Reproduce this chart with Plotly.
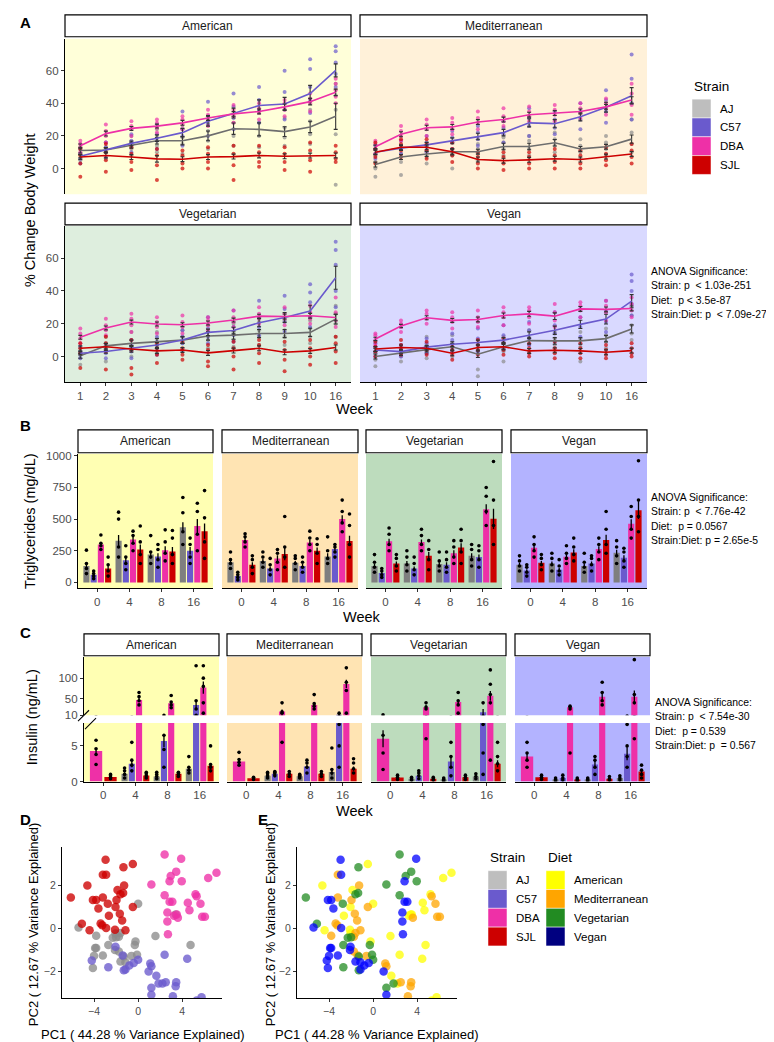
import plotly.graph_objects as go

W, H = 774, 1042
FONT = "Liberation Sans, Arial, sans-serif"

strains = ["AJ", "C57", "DBA", "SJL"]
diets = ["American", "Mediterranean", "Vegetarian", "Vegan"]
weeks_a = ["1", "2", "3", "4", "5", "6", "7", "8", "9", "10", "16"]
weeks_bc = ["0", "4", "8", "16"]

# legend / key colours
strain_key = {"AJ": "#BEBEBE", "C57": "#6A5ACD", "DBA": "#EE30A7", "SJL": "#CD0000"}
diet_key = {"American": "#FFFF00", "Mediterranean": "#FFA500", "Vegetarian": "#228B22", "Vegan": "#000080"}
# colours used on the marks
strain_line = {"AJ": "#6E6E6E", "C57": "#6A5ACD", "DBA": "#EE30A7", "SJL": "#CD0000"}
strain_pt = {"AJ": "#8C8C8C", "C57": "#6A5ACD", "DBA": "#EE30A7", "SJL": "#CD0000"}
strain_bar = {"AJ": "#7F7F7F", "C57": "#6A5ACD", "DBA": "#EE30A7", "SJL": "#CD0000"}
diet_pt = {"American": "#FFFF00", "Mediterranean": "#FFA500", "Vegetarian": "#228B22", "Vegan": "#0000FF"}
bg_light = {"American": "#FFFFD9", "Mediterranean": "#FFF1D9", "Vegetarian": "#DEEEDE", "Vegan": "#D9D9FF"}
bg_strong = {"American": "#FFFFB3", "Mediterranean": "#FFE4B3", "Vegetarian": "#BDDCBD", "Vegan": "#B3B3FF"}

# ---------------- A: % change body weight ----------------
bw_mean_american = {
    "AJ": [11, 11.3, 14.3, 17, 17, 20, 24.4, 24, 22.6, 25.5, 32],
    "C57": [7.5, 11.3, 15.4, 18.6, 22, 29, 34, 38.6, 39.6, 46, 60.2],
    "DBA": [14, 21.4, 24.6, 26, 28, 31, 33.5, 35, 37.8, 41, 46.7],
    "SJL": [7, 8, 7, 5.9, 5.7, 7, 7.3, 8, 7.5, 7.9, 8],
}
bw_se_american = {
    "AJ": [1.5, 1.5, 1.8, 2, 2.5, 3, 3.5, 4, 3, 3.5, 8],
    "C57": [1, 1.2, 1.5, 2, 2.5, 3, 3, 3.5, 4, 5, 4],
    "DBA": [1, 1.5, 1.2, 1.2, 1.5, 1.5, 1.5, 1.5, 1.8, 2, 2],
    "SJL": [1.5, 1.5, 1.5, 2, 1.5, 1.5, 1.5, 1.5, 1.5, 1.5, 1.5],
}
bw_pts_american = {
    "AJ": [[5, 9, 12, 15], [6, 10, 13, 16], [8, 12, 16, 20], [10, 14, 19, 24], [9, 15, 19, 25], [12, 17, 23, 28],
           [14, 20, 28, 34], [13, 20, 28, 35], [14, 19, 25, 31], [15, 21, 29, 36], [-10, 21, 36, 45, 52]],
    "C57": [[3, 6, 9, 12], [7, 10, 13, 16], [10, 14, 17, 21], [12, 17, 21, 27], [14, 20, 24, 35], [20, 27, 32, 41],
            [24, 31, 38, 46], [28, 36, 42, 50], [30, 36, 47, 60], [34, 42, 50, 61, 67], [50, 58, 65, 72, 75]],
    "DBA": [[10, 13, 15, 17], [16, 20, 23, 27], [20, 24, 26, 29], [22, 25, 28, 30], [24, 27, 30, 32], [26, 30, 33, 36],
            [28, 32, 36, 39], [30, 34, 37, 40], [32, 36, 40, 42], [35, 40, 43, 46], [40, 44, 48, 52, 55]],
    "SJL": [[-5, 3, 8, 12], [-2, 5, 10, 15], [-1, 4, 9, 13], [-7, 2, 8, 12], [0, 3, 8, 11], [0, 4, 9, 13],
            [-7, 2, 9, 14], [1, 4, 10, 14], [-1, 4, 9, 13], [-2, 5, 11, 16], [4, 6, 10, 14]],
}
bw_mean_med = {
    "AJ": [2.4, 7, 8.9, 10.3, 10.3, 13.5, 13.5, 15.8, 12, 13.3, 18],
    "C57": [10, 12.5, 14.5, 17, 19.6, 22, 28, 27.5, 31.7, 37.6, 44.6],
    "DBA": [13.3, 21, 25, 25.5, 28.5, 30, 33, 34, 35, 37.8, 42],
    "SJL": [10, 13, 13, 10.3, 5.5, 4.8, 5.3, 6, 5.5, 7.3, 8.9],
}
bw_se_med = {
    "AJ": [1.5, 1.5, 1.5, 2, 1.5, 2, 2, 2, 1.5, 1.5, 2.5],
    "C57": [1.2, 1.5, 1.5, 1.8, 2, 2, 2.5, 2.5, 2.5, 3, 5],
    "DBA": [1, 1.5, 1.5, 1.5, 1.5, 1.5, 1.5, 1.5, 1.5, 1.5, 2],
    "SJL": [1.5, 1.5, 1.5, 1.5, 1.5, 1.5, 1.5, 1.5, 1.5, 1.5, 1.5],
}
bw_pts_med = {
    "AJ": [[-5, 0, 4, 8], [-4, 4, 9, 12], [3, 7, 11, 14], [0, 8, 12, 16], [5, 9, 12, 15], [8, 12, 16, 19],
           [8, 12, 17, 20], [10, 14, 18, 22], [6, 10, 14, 18], [8, 12, 16, 20], [10, 15, 22, 30]],
    "C57": [[6, 9, 12, 14], [9, 12, 14, 17], [10, 13, 16, 20], [12, 16, 19, 23], [14, 18, 22, 26], [16, 21, 25, 29],
            [20, 26, 31, 37], [21, 25, 30, 35], [24, 30, 35, 40], [28, 35, 42, 48], [30, 40, 55, 70]],
    "DBA": [[9, 12, 15, 17], [17, 20, 23, 26], [20, 24, 27, 30], [21, 24, 28, 31], [24, 28, 31, 35], [26, 29, 32, 37],
            [29, 32, 35, 38], [29, 33, 36, 39], [31, 34, 37, 40], [33, 37, 40, 43], [33, 39, 46, 52]],
    "SJL": [[3, 7, 12, 16], [7, 11, 15, 18], [6, 11, 15, 18], [4, 8, 12, 16], [0, 3, 7, 10], [-1, 3, 7, 10],
            [0, 3, 7, 10], [0, 4, 8, 12], [0, 3, 8, 11], [2, 5, 9, 13], [3, 7, 11, 15]],
}
bw_mean_veg = {
    "AJ": [0.4, 6.5, 8, 9, 10, 12.5, 13, 14, 14, 14.7, 22.8],
    "C57": [2, 3, 5, 7, 10, 14.7, 15.8, 20.6, 23.8, 27.7, 48],
    "DBA": [11.7, 17.4, 21, 19.8, 19.4, 20.4, 22.2, 24.6, 24.4, 24.8, 23.8],
    "SJL": [5, 5.9, 4.6, 3.4, 4, 2.2, 3.6, 5, 2.6, 3.4, 5.5],
}
bw_se_veg = {
    "AJ": [1.5, 1.5, 2, 2, 2, 2.5, 2.5, 2.5, 2.5, 2.5, 3],
    "C57": [1, 1, 1.5, 1.5, 2, 2, 2, 2.5, 3, 3.5, 7],
    "DBA": [1.2, 1.2, 1.2, 1.2, 1.2, 1.2, 1.2, 1.2, 1.5, 1.5, 2],
    "SJL": [1.5, 2, 2, 1.5, 1.5, 1.5, 1.5, 1.5, 1.5, 1.5, 1.5],
}
bw_pts_veg = {
    "AJ": [[-5, -1, 2, 5], [-3, 3, 8, 12], [0, 5, 10, 15], [2, 6, 11, 15], [3, 8, 12, 16], [5, 10, 15, 19],
           [6, 10, 15, 20], [7, 12, 16, 21], [7, 12, 16, 22], [8, 12, 17, 22], [12, 20, 26, 31]],
    "C57": [[-1, 1, 3, 6], [-1, 2, 4, 7], [-1, 3, 7, 10], [1, 5, 9, 12], [4, 8, 12, 16], [8, 12, 17, 24],
            [9, 13, 18, 28], [13, 18, 24, 34], [15, 21, 29, 37], [18, 24, 33, 39, 44], [30, 40, 56, 65, 70]],
    "DBA": [[8, 11, 14, 17], [13, 16, 19, 23], [15, 19, 23, 26], [14, 18, 21, 24], [14, 18, 21, 25], [16, 19, 22, 24],
            [18, 21, 24, 28], [20, 23, 26, 30], [19, 23, 26, 30], [20, 23, 27, 31], [18, 22, 27, 36]],
    "SJL": [[-7, 2, 5, 8], [-8, 3, 8, 12], [-11, -7, 4, 10], [-4, 1, 5, 8], [-2, 1, 5, 9], [-6, -3, 4, 7],
            [-8, 0, 5, 9], [-4, 2, 7, 10], [-9, -2, 4, 9], [-5, 0, 5, 10], [-4, 3, 8, 12]],
}
bw_mean_vegan = {
    "AJ": [0, 2.2, 4.2, 5.9, 1.4, 6, 9.7, 9.5, 9.5, 10.9, 16.8],
    "C57": [4, 3, 5.7, 7.5, 8.5, 10, 13, 16, 19.6, 22.8, 33.7],
    "DBA": [10.7, 18.6, 23.6, 22, 22.6, 25, 26, 24.6, 29, 28.7, 29.3],
    "SJL": [4.6, 5.5, 5, 2, 5.5, 5.9, 3.4, 3.8, 3.4, 2.6, 3.6],
}
bw_se_vegan = {
    "AJ": [1.5, 1.5, 1.5, 2, 2, 2, 2, 2, 2, 2, 2.5],
    "C57": [1, 1, 1.2, 1.5, 1.5, 1.5, 2, 2.5, 2.5, 3, 4],
    "DBA": [1, 1, 1.2, 1.2, 1.5, 1.5, 1.5, 2, 1.5, 1.5, 1.5],
    "SJL": [1.5, 1.5, 1.5, 1.5, 1.5, 1.5, 1.5, 1.5, 1.5, 1.5, 1.5],
}
bw_pts_vegan = {
    "AJ": [[-6, -2, 2, 5], [-3, 0, 4, 7], [-1, 2, 6, 12], [0, 4, 8, 13], [-12, -8, 3, 7], [-3, 3, 8, 12],
           [3, 7, 11, 16], [3, 7, 11, 15], [-3, 6, 11, 15], [5, 9, 13, 17], [10, 14, 19, 25]],
    "C57": [[0, 3, 6, 8], [0, 2, 5, 7], [2, 5, 8, 11], [3, 6, 10, 14], [3, 7, 11, 17], [5, 9, 13, 19],
            [7, 11, 16, 21], [9, 14, 19, 27], [12, 18, 24, 29], [15, 21, 28, 34], [25, 32, 40, 46, 50]],
    "DBA": [[7, 10, 13, 14], [15, 18, 20, 22], [20, 23, 26, 28], [17, 21, 24, 27], [18, 21, 24, 28], [19, 24, 27, 30],
            [20, 24, 28, 30], [18, 22, 27, 32], [24, 28, 31, 33], [22, 27, 31, 34], [24, 28, 32, 36]],
    "SJL": [[0, 3, 6, 9], [1, 4, 7, 10], [1, 4, 6, 9], [-2, 1, 4, 6], [1, 4, 7, 10], [1, 4, 8, 11],
            [0, 2, 5, 8], [-1, 2, 5, 9], [-1, 2, 5, 8], [-1, 1, 4, 7], [0, 2, 5, 8]],
}
bw_mean = {"American": bw_mean_american, "Mediterranean": bw_mean_med, "Vegetarian": bw_mean_veg, "Vegan": bw_mean_vegan}
bw_se = {"American": bw_se_american, "Mediterranean": bw_se_med, "Vegetarian": bw_se_veg, "Vegan": bw_se_vegan}
bw_pts = {"American": bw_pts_american, "Mediterranean": bw_pts_med, "Vegetarian": bw_pts_veg, "Vegan": bw_pts_vegan}

# ---------------- B: triglycerides (weeks 0, 4, 8, 16) ----------------
tg_mean = {
    "American": {"AJ": [130, 330, 220, 435], "C57": [60, 175, 205, 250], "DBA": [300, 340, 255, 445], "SJL": [110, 260, 245, 405]},
    "Mediterranean": {"AJ": [160, 170, 155, 205], "C57": [50, 110, 130, 265], "DBA": [335, 190, 315, 500], "SJL": [140, 225, 250, 328]},
    "Vegetarian": {"AJ": [130, 150, 145, 210], "C57": [75, 110, 140, 200], "DBA": [325, 320, 230, 578], "SJL": [150, 210, 275, 502]},
    "Vegan": {"AJ": [140, 150, 130, 234], "C57": [95, 100, 150, 195], "DBA": [273, 203, 265, 463], "SJL": [155, 237, 336, 570]},
}
tg_se = {
    "American": {"AJ": [20, 45, 25, 40], "C57": [10, 25, 25, 30], "DBA": [15, 20, 30, 55], "SJL": [20, 40, 35, 60]},
    "Mediterranean": {"AJ": [15, 15, 15, 25], "C57": [8, 15, 15, 15], "DBA": [15, 25, 20, 30], "SJL": [20, 50, 25, 40]},
    "Vegetarian": {"AJ": [15, 20, 15, 20], "C57": [10, 15, 20, 20], "DBA": [20, 20, 25, 40], "SJL": [15, 30, 35, 80]},
    "Vegan": {"AJ": [15, 15, 15, 25], "C57": [10, 15, 15, 20], "DBA": [20, 20, 20, 35], "SJL": [15, 25, 40, 70]},
}
tg_pts = {
    "American": {
        "AJ": [[70, 110, 150, 255], [200, 280, 500, 555], [150, 200, 240, 370], [300, 400, 550, 670]],
        "C57": [[30, 50, 70, 90], [100, 150, 200, 290], [120, 180, 260, 300], [150, 200, 300, 350]],
        "DBA": [[260, 290, 310, 375], [250, 310, 370, 405], [170, 230, 320, 415], [250, 380, 560, 625]],
        "SJL": [[50, 90, 140, 200], [150, 220, 320, 445], [150, 220, 350, 410], [190, 320, 510, 725]]},
    "Mediterranean": {
        "AJ": [[110, 150, 180, 240], [120, 160, 200, 240], [100, 150, 190, 210], [150, 190, 250, 360]],
        "C57": [[20, 40, 60, 80], [60, 100, 140, 190], [80, 120, 160, 200], [200, 240, 280, 300]],
        "DBA": [[280, 320, 360, 385], [100, 160, 230, 260], [250, 300, 350, 405], [400, 470, 560, 650]],
        "SJL": [[70, 120, 180, 210], [120, 200, 280, 520], [150, 230, 300, 345], [200, 300, 450, 540]]},
    "Vegetarian": {
        "AJ": [[80, 120, 160, 220], [90, 140, 200, 250], [90, 130, 170, 240], [130, 180, 260, 300]],
        "C57": [[40, 60, 90, 110], [60, 100, 150, 200], [80, 120, 180, 240], [120, 180, 250, 290]],
        "DBA": [[250, 300, 380, 430], [250, 300, 370, 420], [150, 200, 280, 330], [450, 560, 680, 750]],
        "SJL": [[90, 130, 190, 220], [100, 180, 260, 330], [150, 240, 330, 420], [300, 450, 650, 955]]},
    "Vegan": {
        "AJ": [[90, 130, 170, 210], [90, 140, 190, 230], [80, 120, 160, 230], [150, 210, 280, 330]],
        "C57": [[50, 80, 120, 140], [60, 90, 130, 180], [90, 140, 190, 210], [120, 170, 240, 270]],
        "DBA": [[200, 250, 300, 360], [150, 190, 230, 290], [180, 240, 300, 350], [350, 420, 520, 600]],
        "SJL": [[100, 140, 190, 220], [170, 220, 280, 350], [230, 300, 420, 560], [400, 520, 650, 960]]},
}

# ---------------- C: insulin (weeks 0, 4, 8, 16) ----------------
ins_mean = {
    "American": {"AJ": [None, 1.1, 0.7, 1.8], "C57": [None, 2.5, 5.7, 35], "DBA": [4.3, 47, 39, 77], "SJL": [0.65, 0.85, 1.1, 2.2]},
    "Mediterranean": {"AJ": [None, 0.8, 0.75, 1.35], "C57": [None, 1.1, 2.1, 11], "DBA": [2.8, 19, 34.5, 86], "SJL": [0.45, 1.1, 1.1, 1.8]},
    "Vegetarian": {"AJ": [None, 0.4, 0.3, 0.7], "C57": [None, 0.8, 2.8, 17], "DBA": [6.0, 29, 42, 57], "SJL": [0.55, 0.4, 0.6, 2.5]},
    "Vegan": {"AJ": [None, 0.3, 0.3, 0.5], "C57": [None, 0.5, 2.4, 3.9], "DBA": [3.5, 29, 55, 55], "SJL": [0.6, 0.3, 0.4, 1.4]},
}
ins_se = {
    "American": {"AJ": [None, 0.2, 0.15, 0.3], "C57": [None, 0.5, 0.9, 12], "DBA": [0.4, 5, 4, 15], "SJL": [0.1, 0.15, 0.1, 0.4]},
    "Mediterranean": {"AJ": [None, 0.15, 0.1, 0.5], "C57": [None, 0.1, 0.3, 3], "DBA": [0.3, 5, 5, 10], "SJL": [0.05, 0.15, 0.15, 0.3]},
    "Vegetarian": {"AJ": [None, 0.1, 0.1, 0.15], "C57": [None, 0.2, 0.7, 8], "DBA": [1.2, 5, 6, 12], "SJL": [0.1, 0.1, 0.1, 0.5]},
    "Vegan": {"AJ": [None, 0.1, 0.1, 0.1], "C57": [None, 0.1, 0.5, 0.9], "DBA": [0.5, 4, 8, 15], "SJL": [0.1, 0.1, 0.1, 0.3]},
}
ins_pts = {
    "American": {
        "AJ": [[], [0.5, 1, 1.5, 1.9], [0.4, 0.7, 1.0, 1.3], [1.2, 1.6, 2.0, 3.5]],
        "C57": [[], [1.5, 2.3, 3, 5.5], [2, 4.5, 6.5, 10], [10, 25, 45, 130]],
        "DBA": [[2.4, 3.8, 4.6, 5.8], [35, 45, 55, 65], [28, 35, 42, 58], [15, 40, 80, 100, 130]],
        "SJL": [[0.4, 0.6, 0.8, 1.0], [0.5, 0.8, 1.1, 1.3], [0.7, 1.0, 1.2, 1.3], [1.5, 2, 2.4, 5]]},
    "Mediterranean": {
        "AJ": [[], [0.5, 0.8, 1.1, 1.3], [0.5, 0.7, 0.9, 1.0], [0.5, 1.2, 1.7, 4.7]],
        "C57": [[], [0.8, 1.1, 1.3, 1.4], [1.2, 2, 2.6, 3], [2, 5, 8, 15]],
        "DBA": [[2.3, 2.7, 3.1, 4.1], [5.5, 15, 18, 40], [25, 32, 38, 60], [15, 70, 90, 125]],
        "SJL": [[0.3, 0.5, 0.6], [0.7, 1.1, 1.4], [0.7, 1.1, 1.4], [1.2, 1.8, 2.6, 3.2]]},
    "Vegetarian": {
        "AJ": [[], [0.2, 0.4, 0.6], [0.1, 0.3, 0.5], [0.4, 0.7, 1.1]],
        "C57": [[], [0.4, 0.8, 1.2, 1.5], [0.8, 2, 3.5, 5.5], [1, 4, 8, 40]],
        "DBA": [[1.7, 4, 6.5, 11], [6, 25, 30, 40], [15, 35, 45, 65], [3, 40, 60, 85, 120]],
        "SJL": [[0.3, 0.6, 0.9], [0.2, 0.4, 0.6], [0.3, 0.6, 0.9], [1.5, 2.5, 3.5, 5.5]]},
    "Vegan": {
        "AJ": [[], [0.1, 0.3, 0.5], [0.1, 0.3, 0.5], [0.2, 0.5, 0.8]],
        "C57": [[], [0.2, 0.5, 0.9], [1, 2, 3, 3.5], [2, 3.5, 5, 8]],
        "DBA": [[2, 3, 4, 5.5], [4, 25, 30, 32], [35, 45, 65, 90], [6, 40, 60, 145]],
        "SJL": [[0.3, 0.6, 0.9], [0.1, 0.3, 0.5], [0.2, 0.4, 0.7], [0.5, 1, 1.6, 2.3]]},
}

# ---------------- D / E: PCA ----------------
pca_pc1 = [
    # SJL
    -6.1, -5.1, -4.4, -4.6, -4.1, -3.8, -3.6, -3.4, -3.2, -2.95, -3.2, -2.9, -2.75, -2.65, -3.25, -2.9,
    -2.05, -1.96, -1.87, -1.66, -1.6, -1.45, -1.36, -1.33, -1.27, -1.15, -2.1, -0.48, -0.48,
    # DBA
    2.4, 3.9, 3.45, 2.85, 2.95, 3.95, 1.2, 6.35, 7.1, 2.4, 3.1, 2.85, 5.2, 5.3, 4.5, 5.65, 4.65,
    2.65, 3.25, 3.6, 3.5, 2.65, 5.8, 6.05, 2.7,
    # AJ
    -5.4, -3.8, -3.9, -3.8, -4.0, -3.2, -4.1, -2.7, -2.3, -2.05, -1.75, -1.6, -2.1, -1.75, -1.3, -1.6,
    -1.15, -0.24, -0.3, -0.1, 0.0, 1.57, 3.4, 4.75, -0.6, -2.0,
    # C57
    -4.2, -2.7, -2.05, -1.4, -1.15, -1.3, -0.8, -0.4, 0.0, 1.1, 1.2, 0.95, 1.65, 1.85, 2.2, 2.5, 1.2,
    1.2, 3.15, 3.45, 3.4, 2.4, 4.45, 5.3, 5.75,
]
pca_pc2 = [
    1.45, 0.23, -0.08, 2.0, 1.33, 1.33, 0.93, 0.24, 1.45, 3.2, 2.5, 2.5, 1.15, 0.6, 0.15, 0.03,
    1.0, 1.33, 1.8, 0.69, 1.6, 0.38, 1.65, 2.85, 2.0, -0.08, -0.05, 3.0, 1.0,
    3.45, 3.25, 2.65, 2.2, 2.45, 2.2, 2.05, 2.35, 2.6, 1.55, 1.25, 1.25, 1.6, 1.5, 1.2, 1.15, 0.85,
    0.75, 0.6, 0.5, 0.65, 0.33, 0.55, 0.55, -0.26,
    0.05, -0.33, -0.9, -0.9, -1.27, -1.25, -1.83, -0.76, -0.43, -0.23, -0.38, -0.2, -1.0, -1.07, -1.3, -1.53,
    -1.57, -0.6, -0.76, -1.22, 1.15, -0.35, 0.66, -0.76, -1.27, -0.4,
    -1.48, -1.8, -0.84, -1.25, -1.9, -1.94, -1.72, -1.6, -1.45, -1.63, -1.75, -2.0, -2.2, -2.55, -2.55, -2.5, -2.75,
    -3.08, -3.15, -2.5, -2.68, -1.22, -1.4, -3.35, -3.2,
]
pca_strain = ["SJL"] * 29 + ["DBA"] * 25 + ["AJ"] * 26 + ["C57"] * 25
A_, M_, G_, V_ = "American", "Mediterranean", "Vegetarian", "Vegan"
pca_diet = [
    G_, G_, A_, A_, V_, V_, V_, M_, M_, V_, M_, V_, G_, A_, M_, V_, A_, M_, A_, M_, G_, M_, G_, G_, M_, M_, A_, A_, M_,
    G_, V_, G_, V_, G_, G_, G_, A_, A_, G_, V_, V_, A_, M_, A_, M_, A_, V_, A_, M_, A_, V_, M_, M_, V_,
    V_, M_, V_, V_, V_, V_, V_, G_, G_, A_, M_, M_, V_, M_, G_, V_, V_, A_, G_, G_, A_, A_, A_, A_, M_, G_,
    V_, G_, V_, M_, V_, G_, V_, V_, G_, M_, M_, V_, A_, G_, A_, M_, G_, V_, M_, M_, M_, A_, A_, A_, A_,
]

anova_a = ["ANOVA Significance:", "Strain: p  < 1.03e-251", "Diet:  p < 3.5e-87", "Strain:Diet: p  < 7.09e-27"]
anova_b = ["ANOVA Significance:", "Strain: p  < 7.76e-42", "Diet:  p = 0.0567", "Strain:Diet: p = 2.65e-5"]
anova_c = ["ANOVA Significance:", "Strain: p  < 7.54e-30", "Diet:  p = 0.539", "Strain:Diet: p  = 0.567"]

# ---------------------------------------------------------------------
layout = dict(width=W, height=H, margin=dict(l=0, r=0, t=0, b=0), paper_bgcolor="white",
              plot_bgcolor="rgba(0,0,0,0)", showlegend=False, font=dict(family=FONT, color="black"))
shapes = []
annos = []
fig = go.Figure()
n_axes = [0]


def axis_style(show):
    return dict(showgrid=False, zeroline=False, showline=show, linecolor="black", linewidth=1.1,
                ticks="outside" if show else "", ticklen=3, tickcolor="#333333", tickwidth=1,
                showticklabels=show, tickfont=dict(size=11.5, color="#4D4D4D", family=FONT))


def make_axes(x0, x1, y0, y1, xkw, ykw, bg=None):
    n_axes[0] += 1
    s = "" if n_axes[0] == 1 else str(n_axes[0])
    xa = axis_style(xkw.pop("show", False))
    xa.update(domain=[x0 / W, x1 / W], anchor="y" + s, **xkw)
    ya = axis_style(ykw.pop("show", False))
    ya.update(domain=[1 - y1 / H, 1 - y0 / H], anchor="x" + s, **ykw)
    layout["xaxis" + s] = xa
    layout["yaxis" + s] = ya
    if bg:
        shapes.append(dict(type="rect", xref="x" + s + " domain", yref="y" + s + " domain", x0=0, x1=1, y0=0, y1=1,
                           fillcolor=bg, line_width=0, layer="below"))
    return "x" + s, "y" + s


def text(x, y, s, size=11.5, color="black", xanchor="left", angle=0):
    annos.append(dict(x=x / W, y=1 - y / H, xref="paper", yref="paper", text=s.replace("  ", "\u00a0\u00a0"),
                      showarrow=False, xanchor=xanchor, yanchor="middle", textangle=angle,
                      font=dict(size=size, color=color, family=FONT)))


def strip(x0, x1, y0, y1, label):
    shapes.append(dict(type="rect", xref="paper", yref="paper", x0=x0 / W, x1=x1 / W, y0=1 - y1 / H, y1=1 - y0 / H,
                       fillcolor="white", line=dict(color="black", width=1.2)))
    text((x0 + x1) / 2, (y0 + y1) / 2, label, size=12, color="#1A1A1A", xanchor="center")


def key_block(x, y_top, title, names, colors):
    text(x, y_top - 13, title, size=13.5)
    for i, nm in enumerate(names):
        y0 = y_top + 19 * i
        shapes.append(dict(type="rect", xref="paper", yref="paper", x0=x / W, x1=(x + 19) / W,
                           y0=1 - (y0 + 19) / H, y1=1 - y0 / H, fillcolor=colors[nm], line=dict(color="white", width=0.5)))
        text(x + 26, y0 + 9.5, nm, size=11.5)


# ---------------- panel A ----------------
a_cols = [(57, 343), (352, 639)]
a_rows = [(27, 184), (216, 374)]
a_strips = [(3, 25), (193, 215)]
for d, diet in enumerate(diets):
    r, c = divmod(d, 2)
    x0, x1 = a_cols[c]
    y0, y1 = a_rows[r]
    xa, ya = make_axes(x0, x1, y0, y1,
                       dict(show=(r == 1), type="category", range=[-0.6, 10.6], categoryorder="array",
                            categoryarray=weeks_a),
                       dict(show=(c == 0), range=[-15.8, 79.6], tickvals=[0, 20, 40, 60]),
                       bg=bg_light[diet])
    strip(x0, x1, a_strips[r][0], a_strips[r][1], diet)
    for st in strains:
        xs, ys = [], []
        for w, pts in zip(weeks_a, bw_pts[diet][st]):
            xs += [w] * len(pts)
            ys += pts
        fig.add_trace(go.Scatter(x=xs, y=ys, mode="markers", xaxis=xa, yaxis=ya,
                                 marker=dict(size=4, color=strain_pt[st], opacity=0.7, line_width=0)))
    for st in strains:
        fig.add_trace(go.Scatter(x=weeks_a, y=bw_mean[diet][st], mode="lines", xaxis=xa, yaxis=ya,
                                 line=dict(color=strain_line[st], width=1.6),
                                 error_y=dict(type="data", array=bw_se[diet][st], color="#333333",
                                              thickness=1.1, width=2)))

text(10, 11, "<b>A</b>", size=15)
text(22, 200, "% Change Body Weight", size=14.5, xanchor="center", angle=-90)
text(347, 401, "Week", size=14.5, xanchor="center")
key_block(684, 88, "Strain", strains, strain_key)
for i, line in enumerate(anova_a):
    text(641, 262 + 14.6 * i, line, size=10.4)


# ---------------- bar helper for B and C ----------------
def add_bars(xa, ya, means, ses, pts):
    for st in strains:
        bx, by, bw, be, qx, qy = [], [], [], [], [], []
        for i in range(len(weeks_bc)):
            v = means[st][i]
            if v is None:
                continue
            present = [s for s in strains if means[s][i] is not None]
            slot = 0.9 / len(present)
            xpos = i + (present.index(st) - (len(present) - 1) / 2) * slot
            bx.append(xpos)
            by.append(v)
            bw.append(slot * 0.85)
            be.append(ses[st][i])
            qx += [xpos] * len(pts[st][i])
            qy += pts[st][i]
        fig.add_trace(go.Bar(x=bx, y=by, width=bw, xaxis=xa, yaxis=ya, marker=dict(color=strain_bar[st], line_width=0),
                             error_y=dict(type="data", array=be, color="black", thickness=1.3, width=0)))
        fig.add_trace(go.Scatter(x=qx, y=qy, mode="markers", xaxis=xa, yaxis=ya,
                                 marker=dict(size=3.6, color="black", line_width=0)))


bc_x = dict(range=[-0.6, 3.6], tickvals=[0, 1, 2, 3], ticktext=weeks_bc)

# ---------------- panel B ----------------
b_cols = [(70, 205), (214, 350), (358, 494), (503, 639)]
for d, diet in enumerate(diets):
    x0, x1 = b_cols[d]
    xa, ya = make_axes(x0, x1, 446, 582, dict(show=True, **bc_x),
                       dict(show=(d == 0), range=[-47, 1016], tickvals=[0, 250, 500, 750, 1000]),
                       bg=bg_strong[diet])
    strip(x0, x1, 422, 445, diet)
    add_bars(xa, ya, tg_mean[diet], tg_se[diet], tg_pts[diet])

text(10, 418, "<b>B</b>", size=15)
text(22, 514, "Triglycerides (mg/dL)", size=14.5, xanchor="center", angle=-90)
text(354, 611, "Week", size=14.5, xanchor="center")
for i, line in enumerate(anova_b):
    text(641, 490 + 14.6 * i, line, size=10.4)

# ---------------- panel C (broken y axis) ----------------
c_cols = [(76, 211), (219, 354), (363, 498), (507, 642)]
for d, diet in enumerate(diets):
    x0, x1 = c_cols[d]
    xa, ya = make_axes(x0, x1, 651, 710, dict(show=False, range=[-0.6, 3.6]),
                       dict(show=(d == 0), range=[10, 152], tickvals=[10, 50, 100]), bg=bg_strong[diet])
    add_bars(xa, ya, ins_mean[diet], ins_se[diet], ins_pts[diet])
    xa, ya = make_axes(x0, x1, 718, 777, dict(show=True, **bc_x),
                       dict(show=(d == 0), range=[0, 8.2], tickvals=[0, 5]), bg=bg_strong[diet])
    add_bars(xa, ya, ins_mean[diet], ins_se[diet], ins_pts[diet])
    strip(x0, x1, 628, 650, diet)

for (ax0, ay0, ax1, ay1) in [(70, 716, 81, 705), (77, 724, 88, 713)]:
    shapes.append(dict(type="line", xref="paper", yref="paper", x0=ax0 / W, x1=ax1 / W, y0=1 - ay0 / H,
                       y1=1 - ay1 / H, line=dict(color="black", width=1.1)))

text(10, 627, "<b>C</b>", size=15)
text(24, 712, "Insulin (ng/mL)", size=14.5, xanchor="center", angle=-90)
text(347, 807, "Week", size=14.5, xanchor="center")
for i, line in enumerate(anova_c):
    text(645, 697 + 14.6 * i, line, size=10.4)

# ---------------- panels D and E ----------------
pca_x = dict(show=True, range=[-6.9, 7.6], tickvals=[-4, 0, 4], tickfont=dict(size=10.5, color="#4D4D4D"))
pca_y = dict(show=True, range=[-3.25, 3.8], tickvals=[-2, 0, 2], tickfont=dict(size=10.5, color="#4D4D4D"))

xa, ya = make_axes(54, 214, 843, 996, dict(pca_x), dict(pca_y))
for st in ["AJ", "C57", "SJL", "DBA"]:
    idx = [i for i, s in enumerate(pca_strain) if s == st]
    fig.add_trace(go.Scatter(x=[pca_pc1[i] for i in idx], y=[pca_pc2[i] for i in idx], mode="markers",
                             xaxis=xa, yaxis=ya, marker=dict(size=8.5, color=strain_pt[st], opacity=0.78, line_width=0)))

xa, ya = make_axes(289, 449, 843, 996, dict(pca_x), dict(pca_y))
for dt in diets:
    idx = [i for i, s in enumerate(pca_diet) if s == dt]
    fig.add_trace(go.Scatter(x=[pca_pc1[i] for i in idx], y=[pca_pc2[i] for i in idx], mode="markers",
                             xaxis=xa, yaxis=ya, marker=dict(size=8.5, color=diet_pt[dt], opacity=0.75, line_width=0)))

text(10, 815, "<b>D</b>", size=15)
text(248, 815, "<b>E</b>", size=15)
for cx in (135, 369):
    text(cx, 1032, "PC1 ( 44.28 % Variance Explained)", size=13, xanchor="center")
for tx in (25, 262):
    text(tx, 921, "PC2 ( 12.67 % Variance Explained)", size=13, xanchor="center", angle=-90)
key_block(480, 867, "Strain", strains, strain_key)
key_block(538, 867, "Diet", diets, diet_key)

layout["shapes"] = shapes
layout["annotations"] = annos
layout["barmode"] = "overlay"
fig.update_layout(**layout)
fig.write_html("out.html")
